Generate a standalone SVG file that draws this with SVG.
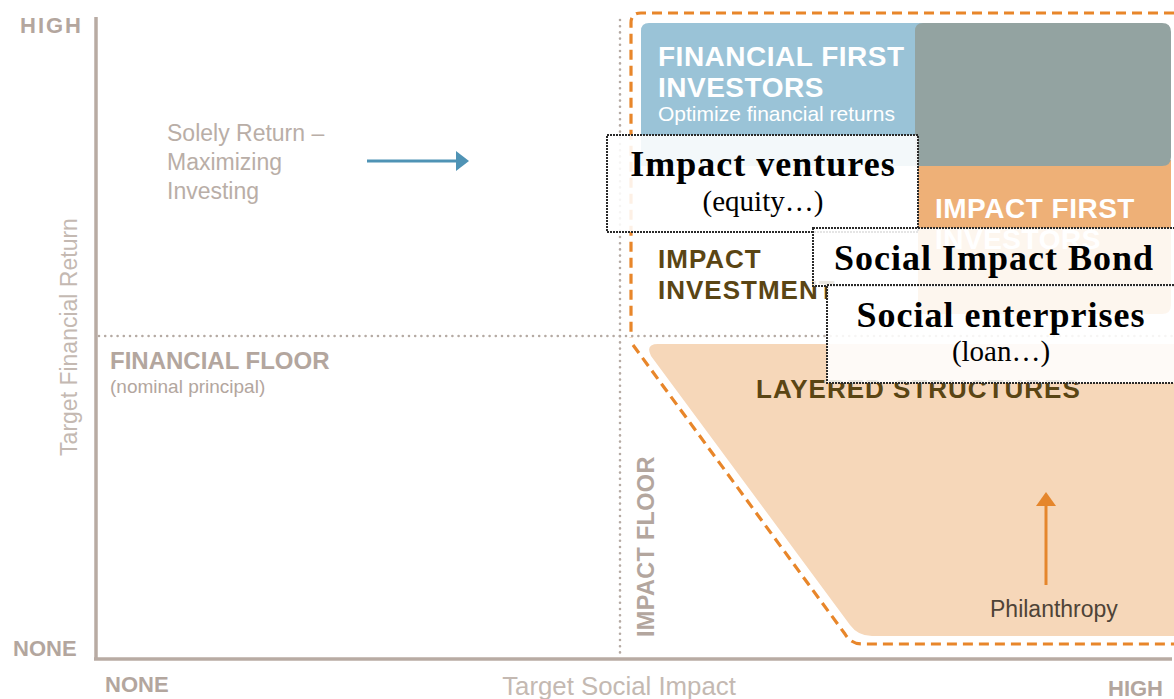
<svg xmlns="http://www.w3.org/2000/svg" width="1174" height="699" viewBox="0 0 1174 699">
<defs>
<style>
.lbl{font-family:"Liberation Sans",Arial,sans-serif;font-weight:bold;fill:#b3a69e}
.ax{font-family:"Liberation Sans",Arial,sans-serif;fill:#c4b9b2}
.soft{font-family:"Liberation Sans",Arial,sans-serif;fill:#b9aea7;font-size:23px}
.wh{font-family:"Liberation Sans",Arial,sans-serif;font-weight:bold;fill:#ffffff;font-size:28px;letter-spacing:0.5px}
.br{font-family:"Liberation Sans",Arial,sans-serif;font-weight:bold;fill:#5a4514;font-size:26px;letter-spacing:1px}
.sb{font-family:"Liberation Serif","Times New Roman",serif;font-weight:bold;fill:#000;font-size:36px;letter-spacing:1px}
.sr{font-family:"Liberation Serif","Times New Roman",serif;fill:#000;font-size:29px}
.box{fill:#ffffff;fill-opacity:0.88;stroke:#2a2a2a;stroke-width:2;stroke-dasharray:2 1}
.dot{fill:none;stroke:#b5aaa3;stroke-width:2.6;stroke-linecap:round;stroke-dasharray:0 6.2}
.odash{fill:none;stroke:#e8862a;stroke-width:3.2;stroke-dasharray:10 6}
</style>
</defs>
<rect width="1174" height="699" fill="#ffffff"/>

<g id="regions">
<path d="M658,344 H1174 V636 H872 Q858,636 850,625 L651,356 Q645,344 658,344 Z" fill="#f6d7b9"/>
<path d="M649,23 H930 V166 H641 V31 Q641,23 649,23 Z" fill="#9ac3d7"/>
<path d="M918,160 H1171 V305 Q1171,314 1162,314 H918 Z" fill="#eeb077"/>
<path d="M923,23 H1162 Q1171,23 1171,32 V157 Q1171,166 1162,166 H915 V31 Q915,23 923,23 Z" fill="#93a3a1"/>
</g>

<g id="grid">
<line class="dot" x1="99" y1="336" x2="1174" y2="336"/>
<line class="dot" x1="620" y1="20" x2="620" y2="656"/>
</g>

<g id="axes">
<line x1="96" y1="17" x2="96" y2="660" stroke="#b8aba3" stroke-width="3.5"/>
<line x1="94" y1="659" x2="1172" y2="659" stroke="#b8aba3" stroke-width="3.5"/>
<text class="lbl" x="20" y="33" style="font-size:22px" letter-spacing="2">HIGH</text>
<text class="lbl" x="13" y="656" style="font-size:22px">NONE</text>
<text class="lbl" x="105" y="692" style="font-size:22px">NONE</text>
<text class="lbl" x="1108" y="696" style="font-size:22px">HIGH</text>
<text class="ax" transform="translate(77,337) rotate(-90)" text-anchor="middle" style="font-size:23px">Target Financial Return</text>
<text class="ax" x="619" y="695" text-anchor="middle" style="font-size:25.8px">Target Social Impact</text>
</g>

<g id="outline">
<path class="odash" d="M1174,13 H641 Q631,13 631,23 V338 M633,345 L845,634 Q851,644 862,644 H1174"/>
</g>

<g id="financial-first">
<text class="wh" x="658" y="66">FINANCIAL FIRST</text>
<text class="wh" x="658" y="97">INVESTORS</text>
<text x="658" y="121" font-family="Liberation Sans, Arial, sans-serif" font-size="21" fill="#ffffff">Optimize financial returns</text>
</g>

<g id="impact-first">
<text class="wh" x="935" y="218">IMPACT FIRST</text>
<text class="wh" x="935" y="249">INVESTORS</text>
</g>

<g id="solely-return">
<text class="soft" x="167" y="141">Solely Return –</text>
<text class="soft" x="167" y="170">Maximizing</text>
<text class="soft" x="167" y="199">Investing</text>
</g>

<g id="financial-floor">
<text class="lbl" x="110" y="369" style="font-size:24px">FINANCIAL FLOOR</text>
<text x="110" y="393" font-family="Liberation Sans, Arial, sans-serif" font-size="19" fill="#b3a69e">(nominal principal)</text>
</g>

<g id="impact-floor">
<text class="lbl" transform="translate(654,637) rotate(-90)" style="font-size:23.5px" letter-spacing="0.3">IMPACT FLOOR</text>
</g>

<g id="impact-investment">
<text class="br" x="658" y="268">IMPACT</text>
<text class="br" x="658" y="299">INVESTMENT</text>
</g>

<g id="layered">
<text class="br" x="756" y="398">LAYERED STRUCTURES</text>
</g>

<g id="philanthropy">
<text x="990" y="617" font-family="Liberation Sans, Arial, sans-serif" font-size="23" fill="#4e4337">Philanthropy</text>
</g>

<g id="connectors">
<line x1="367" y1="161" x2="458" y2="161" stroke="#4f93b5" stroke-width="3"/>
<polygon points="456,151 469,161 456,171" fill="#4f93b5"/>
<line x1="1046" y1="585" x2="1046" y2="504" stroke="#e5862c" stroke-width="3"/>
<polygon points="1036,506 1046,492 1056,506" fill="#e5862c"/>
</g>

<g id="impact-ventures">
<rect class="box" x="607" y="135" width="311" height="97"/>
<text class="sb" x="763" y="176" text-anchor="middle">Impact ventures</text>
<text class="sr" x="763" y="211" text-anchor="middle">(equity…)</text>
</g>

<g id="social-impact-bond">
<rect class="box" x="813" y="228" width="363" height="58"/>
<text class="sb" x="994" y="270" text-anchor="middle">Social Impact Bond</text>
</g>

<g id="social-enterprises">
<rect class="box" x="827" y="285" width="349" height="98"/>
<text class="sb" x="1001" y="327" text-anchor="middle">Social enterprises</text>
<text class="sr" x="1001" y="361" text-anchor="middle">(loan…)</text>
</g>
</svg>
